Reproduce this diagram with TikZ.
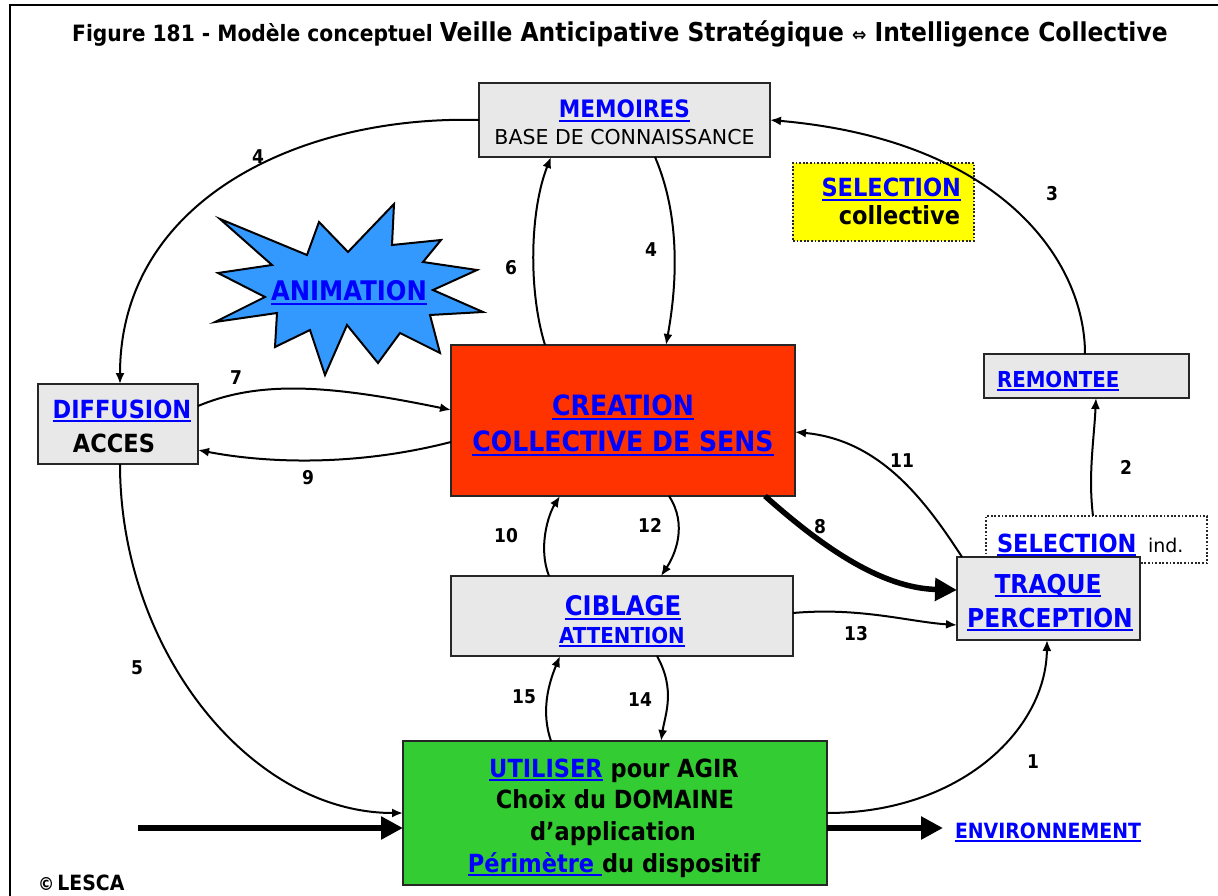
\documentclass[tikz,border=0pt]{standalone}
\usepackage{fontspec}
\setmainfont{DejaVu Sans}[FakeStretch=0.9]
\newfontfamily\plainfont{DejaVu Sans}
\usetikzlibrary{arrows.meta}

\definecolor{boxgray}{HTML}{E8E8E8}
\definecolor{edgegray}{HTML}{262626}
\definecolor{linkblue}{HTML}{0000FF}
\definecolor{creared}{HTML}{FF3300}
\definecolor{usegreen}{HTML}{33CC33}
\definecolor{starblue}{HTML}{3399FF}
\definecolor{noteyellow}{HTML}{FFFF00}

% font size in pt (one pt = one unit of the drawing)
\newcommand\fs[1]{\fontsize{#1}{#1}\selectfont}
% blue underlined link-style text
\newcommand\lnk[1]{\begingroup\color{linkblue}\setbox0=\hbox{#1}\rlap{\rule[-0.17em]{\wd0}{0.075em}}\box0\endgroup}

\begin{document}
\begin{tikzpicture}[x=1pt,y=-1pt,
  panel/.style={draw=edgegray,line width=2.5pt,fill=boxgray,anchor=north west,inner sep=0pt,outer sep=0pt},
  note/.style={draw=edgegray,line width=1.8pt,dash pattern=on 1.8pt off 1.8pt,anchor=north west,inner sep=0pt,outer sep=0pt},
  txt/.style={anchor=base,inner sep=0pt,outer sep=0pt,font=\bfseries},
  num/.style={inner sep=0pt,font=\bfseries\fs{19}},
  flow/.style={line width=2pt,-{Latex[length=11pt,width=9pt]}},
  bigflow/.style={line width=6pt,-{Triangle[length=22pt,width=22pt]}},
]
\useasboundingbox (0,0) rectangle (1218,896);
\fill[white] (0,0) rectangle (1218,896);
\draw[line width=2pt] (10,896) -- (10,5.5) -- (1218,5.5);

% title
\node[anchor=base west,inner sep=0pt] (title) at (72,42)
  {\bfseries\fs{22.5}Figure 181 - Modèle conceptuel \fs{26}Veille Anticipative Stratégique {\fs{19}⇔} Intelligence Collective};

% boxes
\node[panel,minimum width=291pt,minimum height=74pt] (mem) at (479,83) {};
\node[note,fill=noteyellow,minimum width=181pt,minimum height=78pt] (selc) at (793,163) {};
\node[panel,minimum width=160pt,minimum height=80pt] (diff) at (38,384) {};
\node[panel,fill=creared,minimum width=344pt,minimum height=151pt] (crea) at (451,345) {};
\node[panel,minimum width=205pt,minimum height=44pt] (remo) at (984,354) {};
\node[note,fill=white,minimum width=221pt,minimum height=47pt] (seli) at (986,516) {};
\node[panel,minimum width=183pt,minimum height=83pt] (traq) at (957,557) {};
\node[panel,minimum width=342pt,minimum height=80pt] (cibl) at (451,576) {};
\node[panel,fill=usegreen,minimum width=424pt,minimum height=144pt] (util) at (403,741) {};

% star
\filldraw[fill=starblue,draw=black,line width=2pt,line join=miter]
  (220,219) -- (307,255) -- (319,222) -- (348,252) -- (394,204) -- (392,245)
  -- (441,240) -- (423,262) -- (477,270) -- (433,290) -- (483,312) -- (430,315)
  -- (440,353) -- (400,333) -- (378,363) -- (347,325) -- (325,375) -- (310,330)
  -- (275,347) -- (277,313) -- (215,322) -- (265,297) -- (218,273) -- (272,265) -- cycle;

% box texts
\node[txt] (memA) at (624.5,118) {\fs{24}\lnk{MEMOIRES}};
\node[txt,font=\plainfont] (memB) at (624.5,145) {\fs{20.5}BASE DE CONNAISSANCE};
\node[txt,anchor=base east] (selcA) at (961,197) {\fs{25}\lnk{SELECTION}};
\node[txt,anchor=base east] (selcB) at (960,225) {\fs{25}collective};
\node[txt] (animA) at (349,300) {\fs{27}\lnk{ANIMATION}};
\node[txt] (diffA) at (122,418) {\fs{25}\lnk{DIFFUSION}};
\node[txt] (diffB) at (114,452) {\fs{25}ACCES};
\node[txt] (creaA) at (623,415) {\fs{28}\lnk{CREATION}};
\node[txt] (creaB) at (623,451) {\fs{28}\lnk{COLLECTIVE DE SENS}};
\node[txt,anchor=base west] (remoA) at (997,387) {\fs{22}\lnk{REMONTEE}};
\node[txt,anchor=base west] (seliA) at (997,552) {\fs{25}\lnk{SELECTION}};
\node[txt,anchor=base west,font=\plainfont] (seliB) at (1148,552) {\fs{19}ind.};
\node[txt] (traqA) at (1048,593) {\fs{26}\lnk{TRAQUE}};
\node[txt] (traqB) at (1050,627) {\fs{26}\lnk{PERCEPTION}};
\node[txt] (ciblA) at (623,615) {\fs{27}\lnk{CIBLAGE}};
\node[txt] (ciblB) at (622,643) {\fs{22}\lnk{ATTENTION}};
\node[txt] (utilA) at (614,777) {\fs{25}\lnk{UTILISER} pour AGIR};
\node[txt] (utilB) at (615,808) {\fs{25}Choix du DOMAINE};
\node[txt] (utilC) at (613,840) {\fs{25}d’application};
\node[txt] (utilD) at (614,872) {\fs{25}\lnk{Périmètre }du dispositif};
\node[txt,anchor=base west] (env) at (955,838) {\fs{21}\lnk{ENVIRONNEMENT}};
\node[txt,anchor=base west] (lesca) at (38,890) {{\fs{18}©} \fs{21}LESCA};

% free ends of the two thick flows
\coordinate (inL) at (138,828);
\coordinate (outR) at (943,828);

% connectors
\draw[flow] ([xshift=-1.5pt]remo.north) .. controls (1085,260) and (1000,140) .. (mem.east);
\draw[flow] (mem.west) .. controls (300,115) and (120,200) .. ([xshift=2pt]diff.north);
\draw[flow] ([xshift=-78pt]crea.north) .. controls (528,290) and (530,210) .. ([xshift=-73.5pt]mem.south);
\draw[flow] ([xshift=30.5pt]mem.south) .. controls (682,220) and (676,290) .. ([xshift=43pt]crea.north);
\draw[flow] ([yshift=18pt]diff.east) .. controls (260,380) and (330,385) .. ([yshift=10.5pt]crea.west);
\draw[flow] ([yshift=-21.5pt]crea.west) .. controls (350,468) and (260,462) .. ([yshift=-26pt]diff.east);
\draw[flow] ([xshift=2pt]diff.south) .. controls (120,650) and (250,813) .. (util.west);
\draw[flow] (util.east) .. controls (960,813) and (1046,730) .. ([xshift=-1.5pt]traq.south);
\draw[flow] ([xshift=-3.5pt]seli.north) .. controls (1088,475) and (1094,440) .. ([xshift=9.5pt]remo.south);
\draw[line width=5.5pt,-{Triangle[length=22pt,width=22pt]}] ([xshift=-30pt]crea.south east) .. controls (820,545) and (880,588) .. ([yshift=8.5pt]traq.west);
\draw[flow] ([xshift=5pt]traq.north west) .. controls (925,500) and (880,440) .. ([yshift=-11.5pt]crea.east);
\draw[flow] ([xshift=-73pt]cibl.north) .. controls (538,548) and (548,515) .. ([xshift=-63pt]crea.south);
\draw[flow] ([xshift=46pt]crea.south) .. controls (688,525) and (675,555) .. ([xshift=39pt]cibl.north);
\draw[flow] ([yshift=3pt]cibl.east) .. controls (860,607) and (910,622) .. ([yshift=-26.5pt]traq.west);
\draw[flow] ([xshift=-64pt]util.north) .. controls (541,712) and (548,685) .. ([xshift=-62pt]cibl.south);
\draw[flow] ([xshift=35pt]cibl.south) .. controls (676,690) and (665,715) .. ([xshift=46pt]util.north);
\draw[bigflow] (inL) -- ([yshift=-15pt]util.west);
\draw[bigflow] ([yshift=-15pt]util.east) -- (outR);

% connector numbers
\node[num] (n4a) at (258,157) {4};
\node[num] (n3) at (1052,194) {3};
\node[num] (n6) at (511,268) {6};
\node[num] (n4b) at (651,250) {4};
\node[num] (n7) at (236,378) {7};
\node[num] (n9) at (308,478) {9};
\node[num] (n2) at (1126,467) {2};
\node[num] (n11) at (902,461) {11};
\node[num] (n10) at (506,536) {10};
\node[num] (n12) at (650,525) {12};
\node[num] (n8) at (820,527) {8};
\node[num] (n13) at (856,634) {13};
\node[num] (n5) at (137,668) {5};
\node[num] (n15) at (524,697) {15};
\node[num] (n14) at (640,700) {14};
\node[num] (n1) at (1033,762) {1};
\end{tikzpicture}
\end{document}
